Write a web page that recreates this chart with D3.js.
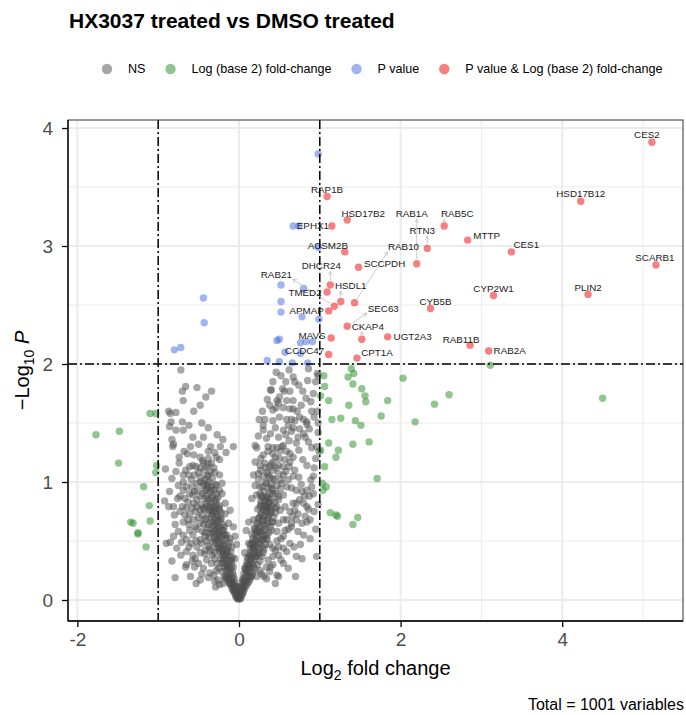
<!DOCTYPE html>
<html>
<head>
<meta charset="utf-8">
<script src="https://cdn.jsdelivr.net/npm/d3@7"></script>
<style>
  body { margin: 0; background: #fff; }
  svg { display: block; font-family: "Liberation Sans", Arial, Helvetica, sans-serif; }
</style>
</head>
<body>
<svg id="chart" width="686" height="715"></svg>
<script>
// ---- data -------------------------------------------------------------
// Significant on both criteria (labelled genes): log2 fold change and -log10 P
const sigGenes = ["CES2","HSD17B12","SCARB1","PLIN2","CES1","MTTP","RAB5C","RTN3","RAB1A","CYP2W1",
  "CYB5B","RAB11B","RAB2A","UGT2A3","CPT1A","RAP1B","HSD17B2","EPHX1","ACSM2B","SCCPDH",
  "RAB10","DHCR24","HSDL1","TMED2","APMAP","RAB21","MAVS","CCDC47","SEC63","CKAP4"];
const sigLog2FC = [5.11,4.23,5.16,4.32,3.37,2.83,2.54,2.33,2.20,3.15,
  2.37,2.86,3.09,1.84,1.46,1.09,1.34,1.15,1.31,1.48,
  1.43,1.13,1.26,1.09,1.11,1.18,1.14,1.11,1.34,1.52];
const sigNegLog10P = [3.88,3.38,2.84,2.59,2.95,3.05,3.17,2.98,2.85,2.58,
  2.47,2.16,2.11,2.23,2.05,3.42,3.22,3.17,2.95,2.82,
  2.52,2.67,2.53,2.61,2.45,2.49,2.22,2.08,2.32,2.21];

// P value passes, fold change does not
const pOnlyPoints = [[-0.44,2.56],[-0.43,2.35],[-0.80,2.12],[-0.72,2.14],
  [0.52,2.67],[0.52,2.53],[0.52,2.44],[0.78,2.40],[0.99,2.38],[0.80,2.64],
  [0.47,2.20],[0.50,2.21],[0.76,2.18],[0.83,2.19],[0.91,2.19],[0.57,2.10],[0.76,2.09],
  [0.35,2.03],[0.50,2.02],[0.66,2.01],[0.85,2.01],[0.98,3.78],[0.67,3.17],[0.74,3.17],[0.98,2.99]];

// Fold change passes, P value does not
const fcOnlyPoints = [[-1.77,1.40],[-1.48,1.43],[-1.49,1.16],[-1.10,1.58],[-1.03,1.58],[-1.02,1.14],
  [-1.03,1.08],[-1.18,0.96],[-1.11,0.80],[-1.34,0.66],[-1.31,0.65],[-1.10,0.67],[-1.25,0.57],
  [-1.25,0.56],[-1.15,0.45],
  [1.06,1.81],[1.05,1.90],[1.39,1.96],[1.42,1.92],[1.35,1.89],[2.03,1.88],[1.41,1.83],[1.52,1.79],
  [1.56,1.73],[1.57,1.68],[1.84,1.69],[1.11,1.69],[1.01,1.73],[1.36,1.65],[2.60,1.74],[2.42,1.66],
  [4.50,1.71],[1.76,1.56],[1.15,1.53],[1.26,1.54],[1.44,1.52],[1.51,1.48],[2.18,1.51],[1.61,1.34],
  [1.41,1.32],[1.11,1.33],[1.01,1.27],[1.23,1.27],[1.20,1.21],[1.06,1.13],[1.71,1.03],[1.03,0.99],
  [1.08,0.96],[1.04,0.93],[1.13,0.74],[1.20,0.72],[1.22,0.71],[1.47,0.70],[1.41,0.64],[3.11,1.99]];

// Not significant
const nsPoints = [
  [-0.72,1.95],[-0.66,1.81],[-0.70,1.77],[-0.69,1.69],[-0.41,1.72],[-0.34,1.77],[-0.87,1.60],[-0.85,1.58],
  [-0.78,1.59],[-0.56,1.60],[-0.84,1.51],[-0.70,1.51],[-0.86,1.47],[-0.69,1.44],[-0.38,1.46],[-0.83,1.36],
  [-0.81,1.32],[-0.82,1.30],[-0.57,1.38],[-0.50,1.32],[-0.35,1.30],[-0.38,1.26],[-0.20,1.36],[-0.23,1.30],
  [-0.16,1.25],[-0.07,1.30],[-0.74,1.21],[-0.64,1.24],[-0.56,1.23],[-0.48,1.21],[-0.28,1.21],[-0.24,1.19],
  [-0.38,1.20],[-0.91,1.11],
  [0.86,1.96],[0.42,1.85],[0.67,1.89],[0.69,1.85],[0.40,1.78],[0.54,1.79],[0.56,1.77],[0.63,1.77],
  [0.50,1.72],[0.47,1.69],[0.49,1.67],[0.59,1.69],[0.67,1.69],[0.89,1.68],[0.29,1.60],[0.42,1.61],
  [0.46,1.63],[0.55,1.63],[0.63,1.62],[0.67,1.62],[0.90,1.60],[0.25,1.53],[0.32,1.53],[0.42,1.52],
  [0.50,1.55],[0.59,1.53],[0.65,1.53],[0.75,1.55],[0.80,1.53],[0.61,1.48],[0.67,1.46],[0.84,1.49],
  [0.55,1.44],[0.65,1.43],[0.75,1.45],[0.80,1.41],[0.73,1.38],[0.82,1.38],[0.86,1.34],[0.71,1.33],
  [0.90,1.29],[0.20,1.31],[0.22,1.29],[0.36,1.30],[0.42,1.29],[0.47,1.29],[0.53,1.30],[0.55,1.31],
  [0.36,1.26],[0.42,1.24],[0.51,1.26],[0.59,1.26],[0.63,1.24],[0.30,1.23],[0.45,1.21],[0.98,1.42],
  [0.96,1.30],[0.99,1.26],[0.97,1.92],[0.95,1.85],[0.39,1.78],[0.98,1.90],[0.97,1.60],[0.98,1.50],
  [0.84,1.51],[0.89,1.02],[0.92,1.05],[0.90,0.96],[0.87,0.88],[0.98,0.81],[0.84,0.79],[0.82,0.71],
  [0.49,0.20],[0.34,0.18],[0.45,0.14],
  [-0.74,1.16],[-0.69,1.06],[-0.66,1.10],[-0.61,1.13],[-0.57,1.14],[-0.48,1.12],[-0.44,1.16],[-0.40,1.13],
  [-0.34,1.16],[-0.38,1.06],[-0.30,1.08],[-0.24,1.06],[-0.75,0.97],[-0.69,0.93],[-0.65,0.96],[-0.59,1.02],
  [-0.52,0.99],[-0.48,1.00],[-0.44,0.97],[-0.42,0.93],[-0.38,0.96],[-0.34,0.93],[-0.28,0.97],[-0.21,0.99],
  [-0.73,0.88],[-0.67,0.86],[-0.61,0.90],[-0.57,0.89],[-0.52,0.85],[-0.48,0.88],[-0.40,0.88],[-0.34,0.86],
  [-0.28,0.85],[-0.21,0.90],[-0.17,0.82],[-0.87,0.79],[-0.81,0.79],[-0.80,0.72],[-0.73,0.75],[-0.65,0.78],
  [-0.61,0.73],[-0.54,0.75],[-0.48,0.76],[-0.44,0.78],[-0.40,0.79],[-0.34,0.76],[-0.28,0.73],[-0.24,0.76],
  [-0.17,0.73],[-0.11,0.76],[-0.79,0.64],[-0.75,0.58],[-0.69,0.66],[-0.63,0.68],[-0.61,0.59],[-0.54,0.62],
  [-0.48,0.65],[-0.42,0.68],[-0.38,0.64],[-0.32,0.66],[-0.26,0.62],[-0.19,0.59],[-0.13,0.65],[-0.07,0.62],
  [-0.90,0.48],[-0.85,0.49],[-0.81,0.54],[-0.77,0.44],[-0.69,0.55],[-0.65,0.51],[-0.59,0.48],[-0.52,0.45],
  [-0.48,0.51],[-0.42,0.54],[-0.36,0.56],[-0.30,0.51],[-0.24,0.54],[-0.17,0.55],[-0.11,0.52],[-0.05,0.54],
  [-0.65,0.41],[-0.57,0.38],[-0.48,0.40],[-0.42,0.42],[-0.36,0.44],[-0.30,0.40],[-0.26,0.45],[-0.21,0.41],
  [-0.15,0.42],[-0.09,0.45],[-0.03,0.47],[-0.66,0.28],[-0.55,0.28],[-0.44,0.27],[-0.40,0.34],[-0.34,0.31],
  [-0.28,0.25],[-0.21,0.31],[-0.15,0.28],[-0.09,0.34],[-0.05,0.35],[-0.79,0.19],[-0.48,0.17],[-0.36,0.23],
  [-0.30,0.16],[-0.24,0.13],[-0.17,0.18],[-0.11,0.14],[-0.07,0.08],[-0.03,0.11],[-0.01,0.06],
  [-0.29,0.11],[-0.65,0.30],[-0.54,0.35],[-0.42,0.39],
  [0.20,1.17],[0.26,1.14],[0.32,1.16],[0.38,1.13],[0.42,1.17],[0.49,1.14],[0.55,1.13],[0.63,1.17],
  [0.18,1.06],[0.24,1.07],[0.30,1.05],[0.36,1.06],[0.42,1.03],[0.49,1.07],[0.55,1.06],[0.61,1.02],
  [0.67,1.05],[0.20,0.97],[0.26,0.96],[0.34,0.99],[0.40,0.95],[0.47,0.97],[0.53,0.99],[0.59,0.96],
  [0.65,0.95],[0.71,0.93],[0.78,0.92],[0.84,0.93],[0.16,0.86],[0.22,0.89],[0.28,0.88],[0.36,0.86],
  [0.42,0.90],[0.49,0.88],[0.55,0.89],[0.67,0.82],[0.71,0.82],[0.80,0.82],[0.26,0.79],[0.32,0.76],
  [0.36,0.79],[0.40,0.75],[0.45,0.78],[0.51,0.76],[0.57,0.79],[0.63,0.75],[0.73,0.73],[0.86,0.77],
  [0.12,0.66],[0.18,0.68],[0.24,0.69],[0.30,0.68],[0.36,0.65],[0.42,0.66],[0.49,0.65],[0.55,0.68],
  [0.59,0.68],[0.65,0.65],[0.71,0.68],[0.78,0.65],[0.84,0.66],[0.88,0.68],[0.09,0.59],[0.16,0.56],
  [0.22,0.54],[0.26,0.58],[0.34,0.55],[0.40,0.59],[0.47,0.58],[0.55,0.54],[0.65,0.62],[0.73,0.58],
  [0.12,0.48],[0.18,0.45],[0.24,0.48],[0.30,0.51],[0.38,0.47],[0.42,0.44],[0.49,0.45],[0.55,0.44],
  [0.63,0.48],[0.07,0.40],[0.14,0.37],[0.22,0.37],[0.30,0.40],[0.36,0.34],[0.42,0.37],[0.49,0.38],
  [0.59,0.41],[0.71,0.37],[0.78,0.35],[0.96,0.37],[0.18,0.28],[0.26,0.25],[0.34,0.28],[0.42,0.30],
  [0.47,0.21],[0.61,0.27],[0.09,0.25],[0.05,0.17],[0.14,0.20],[0.22,0.20],[0.31,0.20],
  // dense core near zero, left arm
  [-0.01,0.01],[-0.02,0.02],[-0.01,0.04],[-0.03,0.04],[-0.02,0.06],[-0.04,0.07],[-0.03,0.09],[-0.05,0.09],
  [-0.06,0.11],[-0.04,0.12],[-0.07,0.13],[-0.05,0.15],[-0.08,0.15],[-0.10,0.16],[-0.06,0.18],[-0.09,0.19],
  [-0.12,0.19],[-0.07,0.21],[-0.11,0.22],[-0.14,0.22],[-0.08,0.24],[-0.12,0.25],[-0.16,0.25],[-0.10,0.27],
  [-0.14,0.28],[-0.18,0.28],[-0.09,0.30],[-0.13,0.31],[-0.17,0.31],[-0.20,0.32],[-0.11,0.33],[-0.15,0.34],
  [-0.19,0.35],[-0.23,0.35],[-0.12,0.37],[-0.17,0.37],[-0.21,0.38],[-0.14,0.40],[-0.19,0.40],[-0.24,0.41],
  [-0.16,0.43],[-0.21,0.43],[-0.27,0.44],[-0.13,0.46],[-0.18,0.46],[-0.23,0.47],[-0.29,0.48],[-0.20,0.50],
  [-0.26,0.50],[-0.16,0.52],[-0.22,0.53],[-0.30,0.53],[-0.19,0.56],[-0.25,0.56],[-0.33,0.57],[-0.21,0.59],
  [-0.28,0.60],[-0.24,0.62],[-0.31,0.63],[-0.20,0.64],[-0.27,0.66],[-0.35,0.66],[-0.23,0.68],[-0.30,0.69],
  [-0.26,0.71],[-0.33,0.72],[-0.22,0.74],[-0.29,0.75],[-0.37,0.76],[-0.25,0.78],[-0.32,0.79],[-0.28,0.81],
  [-0.35,0.82],[-0.30,0.84],[-0.38,0.85],[-0.26,0.87],[-0.33,0.88],[-0.36,0.91],[-0.31,0.93],[-0.40,0.94],
  [-0.34,0.96],[-0.29,0.98],[-0.37,1.00],[-0.42,1.02],[-0.33,1.03],[-0.39,1.05],[-0.35,1.09],[-0.43,1.10],
  [-0.31,1.12],[-0.38,1.15],[-0.45,1.18],
  [-0.02,0.01],[-0.04,0.03],[-0.05,0.05],[-0.06,0.07],[-0.08,0.09],[-0.09,0.11],[-0.10,0.13],[-0.12,0.14],
  [-0.13,0.16],[-0.14,0.18],[-0.16,0.20],[-0.04,0.10],
  [-0.18,0.20],[-0.21,0.24],[-0.25,0.27],[-0.27,0.31],[-0.30,0.35],[-0.33,0.38],[-0.35,0.42],[-0.38,0.46],
  [-0.40,0.50],[-0.37,0.53],[-0.42,0.57],[-0.39,0.61],[-0.44,0.64],[-0.41,0.69],[-0.46,0.72],[-0.43,0.77],
  [-0.47,0.81],[-0.42,0.86],[-0.45,0.90],[-0.24,0.44],[-0.27,0.52],[-0.32,0.49],[-0.35,0.60],[-0.29,0.64],
  [-0.34,0.70],[-0.38,0.73],[-0.30,0.78],[-0.36,0.79],[-0.40,0.82],[-0.24,0.80],[-0.22,0.69],[-0.18,0.62],
  [-0.15,0.55],[-0.12,0.49],[-0.10,0.41],[-0.08,0.36],[-0.07,0.28],[-0.16,0.38],[-0.20,0.47],[-0.25,0.58],
  [-0.28,0.56],[-0.31,0.58],[-0.26,0.68],[-0.32,0.75],[-0.28,0.90],[-0.24,0.93],[-0.39,0.98],[-0.44,0.99],
  [-0.47,1.04],[-0.50,1.08],[-0.53,1.13],[-0.55,1.06],[-0.58,0.96],[-0.55,0.92],[-0.51,0.93],[-0.56,0.82],
  [-0.52,0.79],[-0.58,0.78],[-0.50,0.70],[-0.56,0.68],[-0.52,0.60],[-0.45,0.58],[-0.57,0.55],[-0.46,0.48],
  [-0.53,0.50],[-0.62,0.64],[-0.67,0.72],[-0.70,0.79],[-0.76,0.86],[-0.63,0.83],[-0.69,1.00],[-0.62,1.06],
  [-0.78,1.09],[-0.83,1.03],[-0.86,0.92],[-0.92,0.84],[-0.71,0.49],[-0.62,0.45],[-0.58,0.33],[-0.50,0.31],
  [-0.46,0.22],[-0.38,0.19],[-0.31,0.21],[-0.26,0.17],[-0.20,0.14],[-0.72,0.38],[-0.83,0.33],[-0.60,0.20],
  [-0.53,0.14],
  [-0.60,1.30],[-0.62,1.48],[-0.46,1.50],[-0.44,1.38],[-0.30,1.25],[-0.27,1.40],[-0.48,1.65],[-0.78,1.44],
  [-0.68,1.26],[-0.52,1.80],
  // dense core near zero, right arm
  [0.01,0.01],[0.02,0.03],[0.01,0.05],[0.03,0.06],[0.02,0.08],[0.04,0.09],[0.05,0.11],[0.03,0.12],
  [0.06,0.13],[0.04,0.15],[0.07,0.16],[0.09,0.17],[0.05,0.18],[0.08,0.20],[0.11,0.21],[0.06,0.22],
  [0.10,0.23],[0.13,0.24],[0.08,0.26],[0.12,0.27],[0.15,0.28],[0.09,0.29],[0.13,0.30],[0.17,0.31],
  [0.10,0.32],[0.15,0.33],[0.19,0.34],[0.12,0.35],[0.16,0.36],[0.21,0.37],[0.13,0.38],[0.18,0.39],
  [0.23,0.40],[0.15,0.41],[0.20,0.42],[0.25,0.43],[0.17,0.44],[0.22,0.45],[0.14,0.47],[0.19,0.47],
  [0.26,0.48],[0.21,0.50],[0.28,0.51],[0.17,0.52],[0.24,0.53],[0.30,0.54],[0.20,0.56],[0.27,0.57],
  [0.23,0.59],[0.32,0.60],[0.19,0.61],[0.26,0.62],[0.30,0.64],[0.22,0.65],[0.28,0.67],[0.35,0.68],
  [0.25,0.70],[0.31,0.71],[0.37,0.72],[0.28,0.74],[0.34,0.75],[0.30,0.77],[0.38,0.78],[0.33,0.80],
  [0.27,0.81],[0.36,0.82],[0.32,0.84],[0.40,0.85],[0.29,0.87],[0.35,0.88],[0.38,0.90],[0.31,0.92],
  [0.42,0.93],[0.36,0.95],[0.40,0.98],[0.33,1.00],[0.44,1.02],[0.38,1.04],[0.35,1.08],[0.42,1.10],
  [0.46,1.12],[0.40,1.15],[0.30,0.80],[0.34,0.78],[0.37,0.83],[0.33,0.86],[0.27,0.84],
  [0.00,0.02],[0.02,0.01],[0.04,0.04],[0.05,0.06],[0.06,0.08],[0.07,0.10],[0.09,0.12],[0.10,0.14],
  [0.12,0.15],[0.13,0.17],[0.15,0.19],[0.16,0.21],[0.03,0.11],
  [0.17,0.23],[0.20,0.26],[0.23,0.30],[0.26,0.33],[0.28,0.37],[0.31,0.43],[0.33,0.47],[0.35,0.52],
  [0.37,0.57],[0.39,0.62],[0.41,0.66],[0.43,0.70],[0.45,0.74],[0.47,0.79],[0.44,0.83],[0.49,0.85],
  [0.46,0.90],[0.51,0.94],[0.11,0.30],[0.14,0.43],[0.18,0.50],[0.22,0.58],[0.24,0.64],[0.27,0.72],
  [0.30,0.58],[0.33,0.63],[0.36,0.70],[0.39,0.74],[0.41,0.80],[0.25,0.39],[0.29,0.45],[0.33,0.52],
  [0.07,0.27],[0.10,0.36],[0.16,0.48],[0.20,0.60],[0.23,0.77],[0.26,0.90],[0.29,0.96],[0.24,1.02],
  [0.27,1.10],[0.33,1.12],[0.52,1.02],[0.58,1.09],[0.62,1.13],[0.69,1.10],[0.74,1.04],[0.77,0.98],
  [0.81,0.88],[0.75,0.85],[0.69,0.76],[0.66,0.71],[0.61,0.60],[0.57,0.59],[0.52,0.52],[0.47,0.50],
  [0.45,0.42],[0.52,0.34],[0.39,0.28],[0.28,0.22],[0.38,0.24],[0.55,0.31],[0.68,0.45],[0.80,0.55],
  [0.76,0.47],[0.70,0.20],[0.93,0.75],[0.95,0.60],[0.88,0.52],[0.92,0.90],
  [0.24,1.39],[0.30,1.44],[0.34,1.37],[0.39,1.41],[0.45,1.46],[0.49,1.38],[0.58,1.40],[0.62,1.35],
  [0.69,1.52],[0.72,1.60],[0.77,1.65],[0.83,1.71],[0.79,1.77],[0.74,1.82],[0.58,1.85],[0.52,1.90],
  [0.46,1.93],[0.62,1.95],[0.35,1.70],[0.38,1.65],[0.30,1.48],[0.27,1.20],[0.50,1.20],[0.57,1.19],
  [0.67,1.21],[0.74,1.27],[0.79,1.19],[0.84,1.14],[0.93,1.12],[0.95,1.20],[0.87,1.45],[0.93,1.55],
  [0.92,1.75],[0.85,1.86]
];

const xTicks = [-2, 0, 2, 4];
const yTicks = [0, 1, 2, 3, 4];
const fcCutoff = 1;
const pCutoff = 2;   // -log10(0.01)
const legendLabels = ["NS", "Log (base 2) fold-change", "P value", "P value & Log (base 2) fold-change"];
const totalVariables = 1001;

// ---- layout ----------------------------------------------------------
const panel = { left: 68, right: 683, top: 120, bottom: 621 };
const colours = { ns: "#4d4d4d", fc: "#228b22", p: "#4169e1", both: "#ee0000" };
const pointR = 3.7, pointAlpha = 0.5;

// text position of each gene label relative to its point (pixels), and whether it has a leader line
const labelPlacement = {
  CES2: [-5, -8], HSD17B12: [0, -8], SCARB1: [-1, -7], PLIN2: [0, -7], CES1: [15, -7.5],
  MTTP: [19, -4.5], RAB5C: [13, -12, true], RTN3: [-5, -18, true], RAB1A: [-5, -50, true],
  RAB10: [49, -56, true], SCCPDH: [26, -4], HSD17B2: [16, -7], RAP1B: [0, -7], EPHX1: [-19, 0],
  ACSM2B: [-17, -6], DHCR24: [-9, -19, true], HSDL1: [10, -16, true], TMED2: [-22, 0],
  APMAP: [-22, 0], RAB21: [-58, -32, true], MAVS: [-19, -3], CCDC47: [-24, -4],
  SEC63: [36, -18, true], CKAP4: [6, -13, true], UGT2A3: [25, 0], CYB5B: [5, -7],
  CYP2W1: [0, -7], RAB11B: [-9, -6], RAB2A: [21, -1], CPT1A: [20, -6]
};

const svg = d3.select("#chart");

const x = d3.scaleLinear().domain([-2.116, 5.495]).range([panel.left, panel.right]);
const y = d3.scaleLinear().domain([-0.178, 4.068]).range([panel.bottom, panel.top]);

// panel background and grid
svg.append("rect").attr("x", panel.left).attr("y", panel.top)
  .attr("width", panel.right - panel.left).attr("height", panel.bottom - panel.top)
  .attr("fill", "#fff");

const grid = svg.append("g");
const xMinor = [-1, 1, 3, 5], yMinor = [0.5, 1.5, 2.5, 3.5];
grid.selectAll(".gxm").data(xMinor).join("line")
  .attr("x1", d => x(d)).attr("x2", d => x(d)).attr("y1", panel.top).attr("y2", panel.bottom)
  .attr("stroke", "#ebebeb").attr("stroke-width", 1);
grid.selectAll(".gym").data(yMinor).join("line")
  .attr("y1", d => y(d)).attr("y2", d => y(d)).attr("x1", panel.left).attr("x2", panel.right)
  .attr("stroke", "#ebebeb").attr("stroke-width", 1);
grid.selectAll(".gx").data(xTicks).join("line")
  .attr("x1", d => x(d)).attr("x2", d => x(d)).attr("y1", panel.top).attr("y2", panel.bottom)
  .attr("stroke", "#ebebeb").attr("stroke-width", 2);
grid.selectAll(".gy").data(yTicks).join("line")
  .attr("y1", d => y(d)).attr("y2", d => y(d)).attr("x1", panel.left).attr("x2", panel.right)
  .attr("stroke", "#ebebeb").attr("stroke-width", 2);

// points
const sigPoints = sigGenes.map((g, i) => ({ gene: g, fc: sigLog2FC[i], p: sigNegLog10P[i] }));
const pts = svg.append("g");
function drawPoints(data, col) {
  pts.append("g").selectAll("circle").data(data).join("circle")
    .attr("cx", d => x(d[0])).attr("cy", d => y(d[1])).attr("r", pointR)
    .attr("fill", col).attr("fill-opacity", pointAlpha);
}
drawPoints(nsPoints, colours.ns);
drawPoints(fcOnlyPoints, colours.fc);
drawPoints(pOnlyPoints, colours.p);
drawPoints(sigPoints.map(d => [d.fc, d.p]), colours.both);

// cutoff lines
const cut = svg.append("g").attr("stroke", "#000").attr("stroke-width", 1.5)
  .attr("stroke-dasharray", "9,3,2,3").attr("fill", "none");
[-fcCutoff, fcCutoff].forEach(v => cut.append("line")
  .attr("x1", x(v)).attr("x2", x(v)).attr("y1", panel.top).attr("y2", panel.bottom));
cut.append("line").attr("x1", panel.left).attr("x2", panel.right)
  .attr("y1", y(pCutoff)).attr("y2", y(pCutoff));

// gene labels with leader lines
const defs = svg.append("defs");
defs.append("marker").attr("id", "arrowHead").attr("viewBox", "0 0 10 10")
  .attr("refX", 9).attr("refY", 5).attr("markerWidth", 5).attr("markerHeight", 5)
  .attr("markerUnits", "userSpaceOnUse").attr("orient", "auto")
  .append("path").attr("d", "M1,1 L9,5 L1,9").attr("fill", "none")
  .attr("stroke", "#b5b5b5").attr("stroke-width", 1.2);

const lab = svg.append("g");
const leaders = lab.append("g");
sigPoints.forEach(d => {
  const [dx, dy, leader] = labelPlacement[d.gene];
  const px = x(d.fc), py = y(d.p);
  const t = lab.append("text").attr("x", px + dx).attr("y", py + dy)
    .attr("text-anchor", "middle").attr("dominant-baseline", "central")
    .attr("font-size", 9.8).attr("fill", "#1a1a1a").text(d.gene);
  if (leader) {
    const b = t.node().getBBox();
    const tx = Math.max(b.x, Math.min(px, b.x + b.width));
    const ty = Math.max(b.y + 1, Math.min(py, b.y + b.height - 1));
    const len = Math.hypot(tx - px, ty - py);
    const ux = (tx - px) / len, uy = (ty - py) / len;
    leaders.append("line")
      .attr("x1", px + ux * (pointR + 1)).attr("y1", py + uy * (pointR + 1))
      .attr("x2", tx - ux * 1).attr("y2", ty - uy * 1)
      .attr("stroke", "#b5b5b5").attr("stroke-width", 0.7)
      .attr("marker-end", "url(#arrowHead)");
  }
});

// panel border and axes
svg.append("rect").attr("x", panel.left).attr("y", panel.top)
  .attr("width", panel.right - panel.left).attr("height", panel.bottom - panel.top)
  .attr("fill", "none").attr("stroke", "#333").attr("stroke-width", 1);

const xAxis = svg.append("g").attr("transform", `translate(0,${panel.bottom})`)
  .call(d3.axisBottom(x).tickValues(xTicks).tickSize(6).tickPadding(6).tickFormat(d => String(d)));
const yAxis = svg.append("g").attr("transform", `translate(${panel.left},0)`)
  .call(d3.axisLeft(y).tickValues(yTicks).tickSize(6).tickPadding(9).tickFormat(d => String(d)));
[xAxis, yAxis].forEach(a => {
  a.select(".domain").attr("stroke", "#000").attr("stroke-width", 1.3);
  a.selectAll(".tick line").attr("stroke", "#000").attr("stroke-width", 1.3);
  a.selectAll(".tick text").attr("font-size", 19).attr("fill", "#4d4d4d")
    .attr("font-family", "\"Liberation Sans\", Arial, sans-serif");
});
xAxis.select(".domain").attr("d", `M${panel.left},0H${panel.right}`);
yAxis.select(".domain").attr("d", `M0,${panel.bottom}V${panel.top}`);

// axis titles
const xt = svg.append("text").attr("x", (panel.left + panel.right) / 2).attr("y", 675)
  .attr("text-anchor", "middle").attr("font-size", 20).attr("fill", "#000");
xt.append("tspan").text("Log");
xt.append("tspan").attr("font-size", 14).attr("dy", 5).text("2");
xt.append("tspan").attr("dy", -5).text(" fold change");

const yt = svg.append("text").attr("transform", `translate(29,${(panel.top + panel.bottom) / 2}) rotate(-90)`)
  .attr("text-anchor", "middle").attr("font-size", 20).attr("fill", "#000");
yt.append("tspan").text("\u2212Log");
yt.append("tspan").attr("font-size", 14).attr("dy", 5).text("10");
yt.append("tspan").attr("dy", -5).text(" ");
yt.append("tspan").attr("font-style", "italic").text("P");

// title
svg.append("text").attr("x", 69).attr("y", 28).attr("font-size", 21).attr("font-weight", "bold")
  .attr("fill", "#000").text("HX3037 treated vs DMSO treated");

// legend
const legendCols = [colours.ns, colours.fc, colours.p, colours.both];
const leg = svg.append("g");
let cx = 107;
legendLabels.forEach((l, i) => {
  leg.append("circle").attr("cx", cx).attr("cy", 69).attr("r", 5.2)
    .attr("fill", legendCols[i]).attr("fill-opacity", pointAlpha);
  const t = leg.append("text").attr("x", cx + 21).attr("y", 69).attr("dominant-baseline", "central")
    .attr("font-size", 12.6).attr("fill", "#000").text(l);
  cx += 21 + t.node().getComputedTextLength() + 25;
});

// caption
svg.append("text").attr("x", 684).attr("y", 710).attr("text-anchor", "end")
  .attr("font-size", 16).attr("fill", "#000").text(`Total = ${totalVariables} variables`);
</script>
</body>
</html>
